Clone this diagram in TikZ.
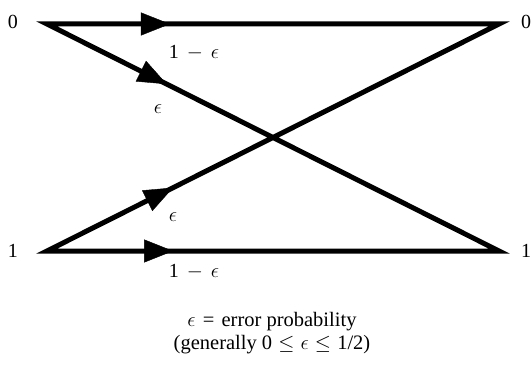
\documentclass[tikz,border=0pt]{standalone}
\usepackage{fontspec}
\setmainfont{Liberation Serif}
\usetikzlibrary{arrows.meta,decorations.markings}
\newcommand\tightcap{\fontsize{20.5}{22.5}\selectfont}
\begin{document}
\begin{tikzpicture}[x=1pt,y=-1pt,
  chan/.style={line width=5pt, line join=miter, miter limit=20},
  arrowmark/.style={decoration={markings, mark=at position #1 with {\arrow{Triangle[length=29pt,width=23pt]}}}, postaction={decorate}},
  lbl/.style={inner sep=0pt, font=\fontsize{20}{22}\selectfont},
  captext/.style={inner sep=0pt, align=center, font=\tightcap}]
\useasboundingbox (0,0) rectangle (531,369);
\coordinate (TL) at (47,24);
\coordinate (TR) at (499,24);
\coordinate (BL) at (47,251);
\coordinate (BR) at (499,251);
\draw[chan] (TL) -- (TR) -- (BL) -- (BR) -- cycle;
\path[arrowmark=0.272] (TL) -- (TR);
\path[arrowmark=0.265] (TL) -- (BR);
\path[arrowmark=0.279] (BL) -- (TR);
\path[arrowmark=0.279] (BL) -- (BR);
\node[lbl] (in0) at (13,22) {0};
\node[lbl] (in1) at (13,251) {1};
\node[lbl] (out0) at (526,22) {0};
\node[lbl] (out1) at (526,251) {1};
\node[lbl] (p00) at (194,53) {1\hspace{0.4em}$-$\hspace{0.4em}$\epsilon$};
\node[lbl] (p01) at (158,109) {$\epsilon$};
\node[lbl] (p10) at (173,217) {$\epsilon$};
\node[lbl] (p11) at (194,272) {1\hspace{0.4em}$-$\hspace{0.4em}$\epsilon$};
\node[captext] (caption) at (272,333) {$\epsilon$\hspace{0.35em}=\hspace{0.35em}error probability\\(generally 0\hspace{0.3em}$\leq$\hspace{0.3em}$\epsilon$\hspace{0.3em}$\leq$\hspace{0.3em}1/2)};
\end{tikzpicture}
\end{document}
